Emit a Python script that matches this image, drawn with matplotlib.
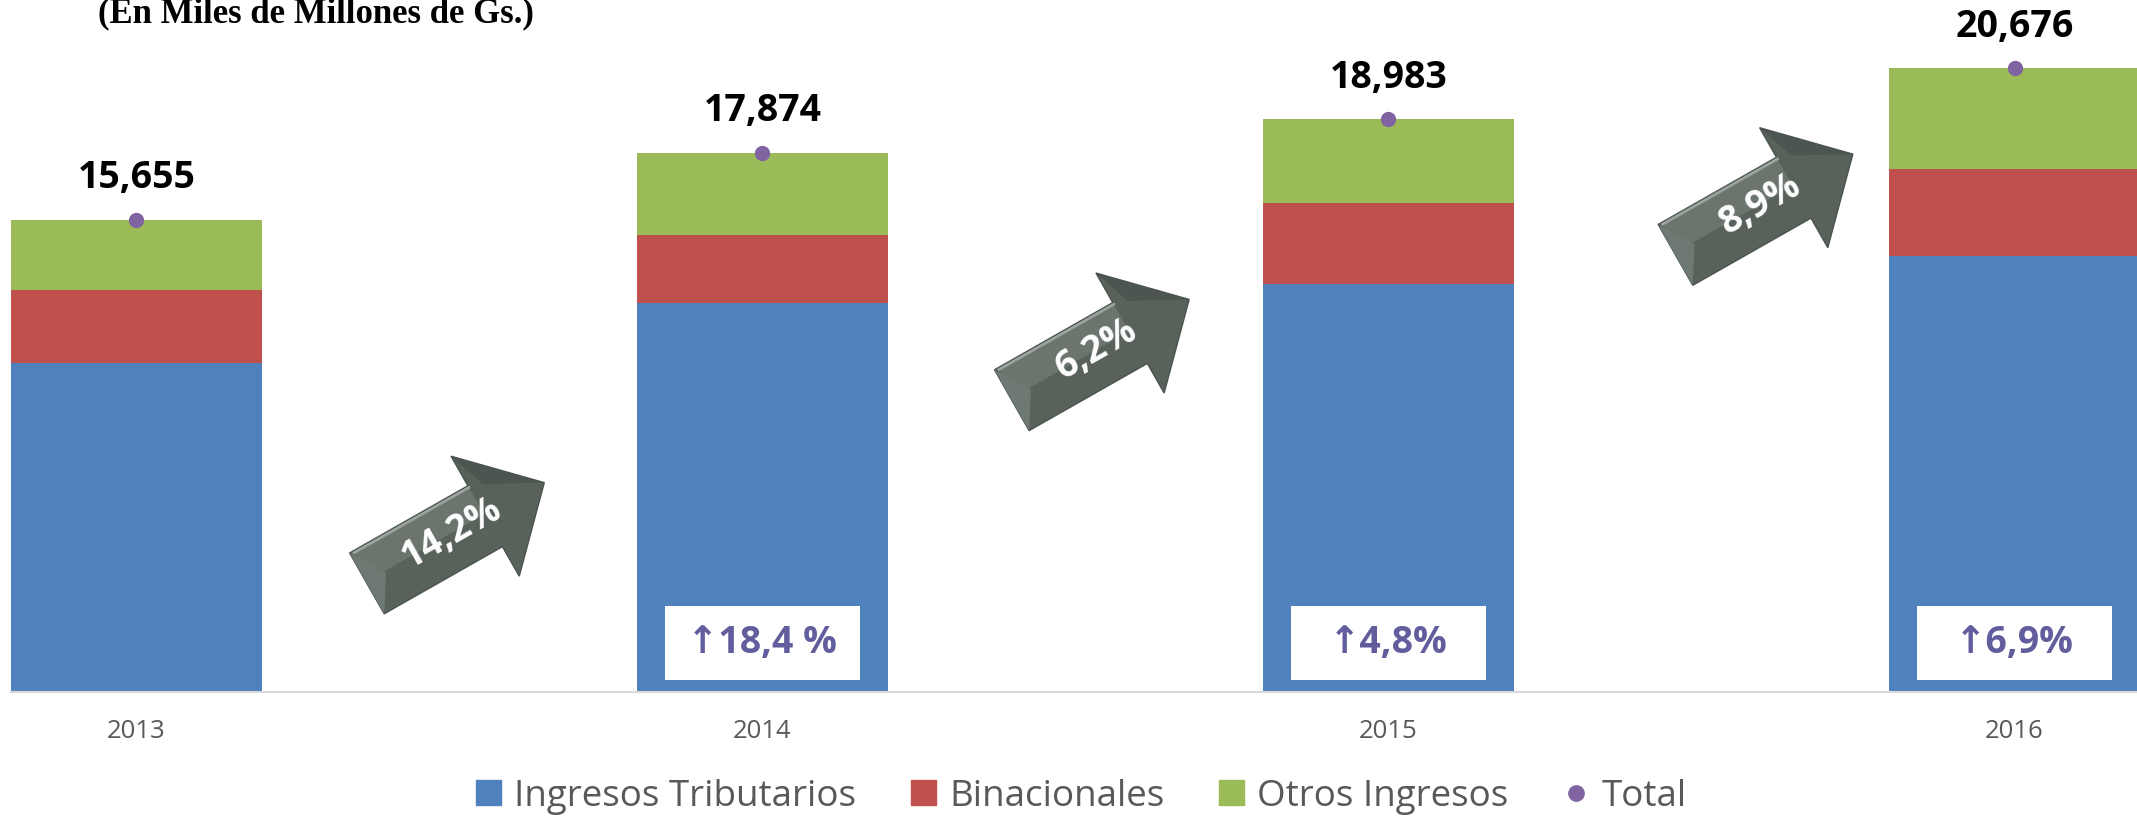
import matplotlib
matplotlib.use("Agg")
import matplotlib.pyplot as plt
from matplotlib.patches import Polygon, Rectangle, Patch
from matplotlib.lines import Line2D
import matplotlib.transforms as mtransforms

plt.rcParams['font.family'] = ['Open Sans', 'DejaVu Sans']

# data
years = ['2013', '2014', '2015', '2016']
tributarios = [10890, 12890, 13510, 14440]
binacionales = [2440, 2255, 2706, 2905]
otros = [2325, 2729, 2767, 3331]
totales = [15655, 17874, 18983, 20676]
var_total = ['14,2%', '6,2%', '8,9%']          # growth of the total between years
var_trib = ['↑18,4 %', '↑4,8%', '↑6,9%']       # growth of tributarios (2014..2016)

# layout of the decorative arrows (data coords of arrow centre)
arrow_pos = [(0.51, 5263), (1.54, 11338), (2.60, 16157)]

C_BLUE, C_RED, C_GREEN, C_PURP = '#4F81BD', '#C0504D', '#9BBB59', '#8064A2'

fig = plt.figure(figsize=(21.37, 8.18), dpi=100)
ax = fig.add_axes([11 / 2137, 0.1544, 1 - 11 / 2137, 0.8456])

x = list(range(len(years)))
w = 0.4
bottom2 = [a + b for a, b in zip(tributarios, binacionales)]
ax.bar(x, tributarios, w, color=C_BLUE, label='Ingresos Tributarios')
ax.bar(x, binacionales, w, bottom=tributarios, color=C_RED, label='Binacionales')
ax.bar(x, otros, w, bottom=bottom2, color=C_GREEN, label='Otros Ingresos')
ax.plot(x, totales, 'o', color=C_PURP, markersize=10, zorder=5, label='Total')

for xi, t in zip(x, totales):
    ax.annotate(f'{t:,}', (xi, t), xytext=(0, 22.5), textcoords='offset points',
                ha='center', va='baseline', fontsize=27, fontweight='bold', color='black')

# white boxes with tributarios growth
box_w, box_h, box_b = 0.311, 2454, 398
for xi, lab in zip(x[1:], var_trib):
    ax.add_patch(Rectangle((xi - box_w / 2, box_b), box_w, box_h, facecolor='white',
                           edgecolor='none', zorder=4))
    ax.text(xi, box_b + box_h / 2, lab, ha='center', va='center', fontsize=27,
            fontweight='bold', color='#625E9E', zorder=5)

# grey 3D-ish arrows with total growth
ang = 29.6
L, sw, hw, hl = 204, 35, 69, 68
half = L / 2
body = [(-half, -sw), (half - hl, -sw), (half - hl, -hw), (half, 0),
        (half - hl, hw), (half - hl, sw), (-half, sw)]
upper = [(-half + 4, 2), (half - hl, 2), (half - hl, sw - 3), (-half + 4, sw - 3)]
facet = [(half - hl, hw), (half, 0), (half - hl + 14, sw - 6)]
tailf = [(-half, -sw), (-half + 22, 0), (-half, sw)]
for (cx, cy), lab in zip(arrow_pos, var_total):
    tr = mtransforms.Affine2D().rotate_deg(ang) + \
        mtransforms.ScaledTranslation(cx, cy, ax.transData)
    ax.add_patch(Polygon(body, closed=True, facecolor='#58625B', edgecolor='#4a534d',
                         linewidth=1, transform=tr, zorder=6, clip_on=False))
    ax.add_patch(Polygon(upper, closed=True, facecolor='#6B756E', edgecolor='none',
                         transform=tr, zorder=6, clip_on=False))
    ax.add_patch(Polygon(facet, closed=True, facecolor='#4C5550', edgecolor='none',
                         transform=tr, zorder=6, clip_on=False))
    ax.add_patch(Polygon(tailf, closed=True, facecolor='#6F7973', edgecolor='none',
                         transform=tr, zorder=6, clip_on=False))
    ax.plot([-half + 4, half - hl], [sw - 2, sw - 2], color='#9AA39D', linewidth=2,
            transform=tr, zorder=6, clip_on=False)
    tx, ty = tr.transform((-18, -2))
    tx, ty = ax.transData.inverted().transform((tx, ty))
    ax.text(tx, ty, lab, rotation=ang, rotation_mode='anchor', ha='center', va='center',
            fontsize=27, fontweight='bold', color='white', zorder=7)

ax.set_xlim(-0.2001, 3.1955)
ax.set_ylim(0, 22939)
ax.set_xticks(x)
ax.set_xticklabels(years)
ax.tick_params(axis='x', length=0, pad=20, labelsize=18.5, labelcolor='#595959')
ax.set_yticks([])
for s in ['top', 'right', 'left']:
    ax.spines[s].set_visible(False)
ax.spines['bottom'].set_color('#D9D9D9')
ax.spines['bottom'].set_linewidth(1.5)

fig.text(98 / 2137, 1 - 22 / 818, '(En Miles de Millones de Gs.)', ha='left', va='baseline',
         fontsize=25, fontweight='bold', family='Liberation Serif', color='black')

handles = [Patch(color=C_BLUE), Patch(color=C_RED), Patch(color=C_GREEN),
           Line2D([], [], marker='o', linestyle='none', color=C_PURP, markersize=11)]
labels = ['Ingresos Tributarios', 'Binacionales', 'Otros Ingresos', 'Total']
fig.legend(handles, labels, loc='center', bbox_to_anchor=(0.506, 0.026), ncol=4,
           frameon=False, fontsize=26.5, labelcolor='#595959', handlelength=0.68,
           handleheight=0.68, handletextpad=0.35, columnspacing=1.5)

fig.savefig('out.png', dpi=100)
